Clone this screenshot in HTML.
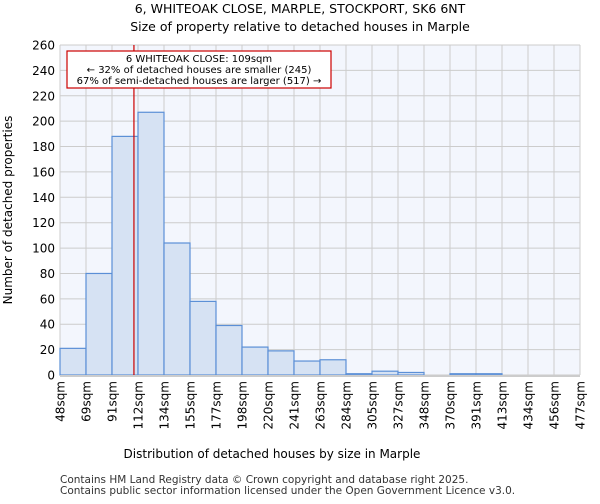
<!DOCTYPE html>
<html><head><meta charset="utf-8"><style>
body{margin:0;background:#fff;font-family:"DejaVu Sans","Liberation Sans",sans-serif}
</style></head><body>
<svg width="600" height="500" xmlns="http://www.w3.org/2000/svg" font-family="DejaVu Sans, Liberation Sans, sans-serif">
<text x="300" y="13" font-size="12.5" text-anchor="middle">6, WHITEOAK CLOSE, MARPLE, STOCKPORT, SK6 6NT</text>
<text x="300" y="31" font-size="12.5" text-anchor="middle">Size of property relative to detached houses in Marple</text>
<rect x="60" y="45" width="520" height="330" fill="#f3f6fd"/>
<g id="grid"></g><g id="bars"></g><g id="axes"></g>
<text x="272" y="458" font-size="12" text-anchor="middle">Distribution of detached houses by size in Marple</text>
<text transform="translate(12,210) rotate(-90)" font-size="12" text-anchor="middle">Number of detached properties</text>
<text x="60" y="483" font-size="10.5" fill="#333">Contains HM Land Registry data © Crown copyright and database right 2025.</text>
<text x="60" y="494" font-size="10.5" fill="#333">Contains public sector information licensed under the Open Government Licence v3.0.</text>
</svg>
<script>
const categories=["48sqm","69sqm","91sqm","112sqm","134sqm","155sqm","177sqm","198sqm","220sqm","241sqm","263sqm","284sqm","305sqm","327sqm","348sqm","370sqm","391sqm","413sqm","434sqm","456sqm","477sqm"];
const counts=[21,80,188,207,104,58,39,22,19,11,12,1,3,2,0,1,1,0,0,0];
const yTicks=[0,20,40,60,80,100,120,140,160,180,200,220,240,260];
const markerSize=109, binStart=48, binEnd=477;
const NS="http://www.w3.org/2000/svg";
const X0=60,X1=580,Y0=375,Y1=45,YMAX=260;
const n=counts.length, bw=(X1-X0)/n;
const xb=i=>X0+i*bw;
const y=v=>Y0-(v/YMAX)*(Y0-Y1);
const xv=v=>X0+(v-binStart)/(binEnd-binStart)*(X1-X0);
function mk(t,a,p){const e=document.createElementNS(NS,t);for(const k in a)e.setAttribute(k,a[k]);p.appendChild(e);return e;}
const grid=document.getElementById('grid'),bars=document.getElementById('bars'),axes=document.getElementById('axes');
yTicks.forEach(v=>{
 const l=mk('line',{x1:X0,x2:X1,y1:y(v),y2:y(v),stroke:'#cccccc','stroke-width':1},grid);
 
 
 const t=mk('text',{x:X0-5,y:y(v)+4.5,'font-size':12,'text-anchor':'end'},axes);
 t.textContent=v;
 
 
});
categories.forEach((c,i)=>{
 const l=mk('line',{x1:xb(i),x2:xb(i),y1:Y1,y2:Y0,stroke:'#cccccc','stroke-width':1},grid);
 
 
 const t=mk('text',{transform:`translate(${xb(i)+4.5},${Y0+6}) rotate(-90)`,'font-size':12,'text-anchor':'end'},axes);
 t.textContent=c;
 
 
});
counts.forEach((v,i)=>{
 const r=mk('rect',{x:xb(i),y:y(v),width:bw,height:Y0-y(v),fill:'#d6e2f3',stroke:'#5b8fd6','stroke-width':1.2},bars);
 
 
});
const ax=mk('line',{x1:X0,x2:X1,y1:Y0+1,y2:Y0+1,stroke:'#cccccc','stroke-width':2},axes);


const mx=xv(markerSize);
const ml=mk('line',{x1:mx,x2:mx,y1:Y1,y2:Y0,stroke:'#cc0000','stroke-width':1.2},axes);


const g=mk('g',{},axes);


mk('rect',{x:67,y:51,width:264,height:37,fill:'#fff',stroke:'#cc0000','stroke-width':1.2},g);
[["6 WHITEOAK CLOSE: 109sqm",62],["← 32% of detached houses are smaller (245)",73],["67% of semi-detached houses are larger (517) →",84]].forEach(([s,yy])=>{
 const t=mk('text',{x:199,y:yy,'font-size':10,'text-anchor':'middle'},g);
 t.textContent=s;
 
 
});
</script>
</body></html>
